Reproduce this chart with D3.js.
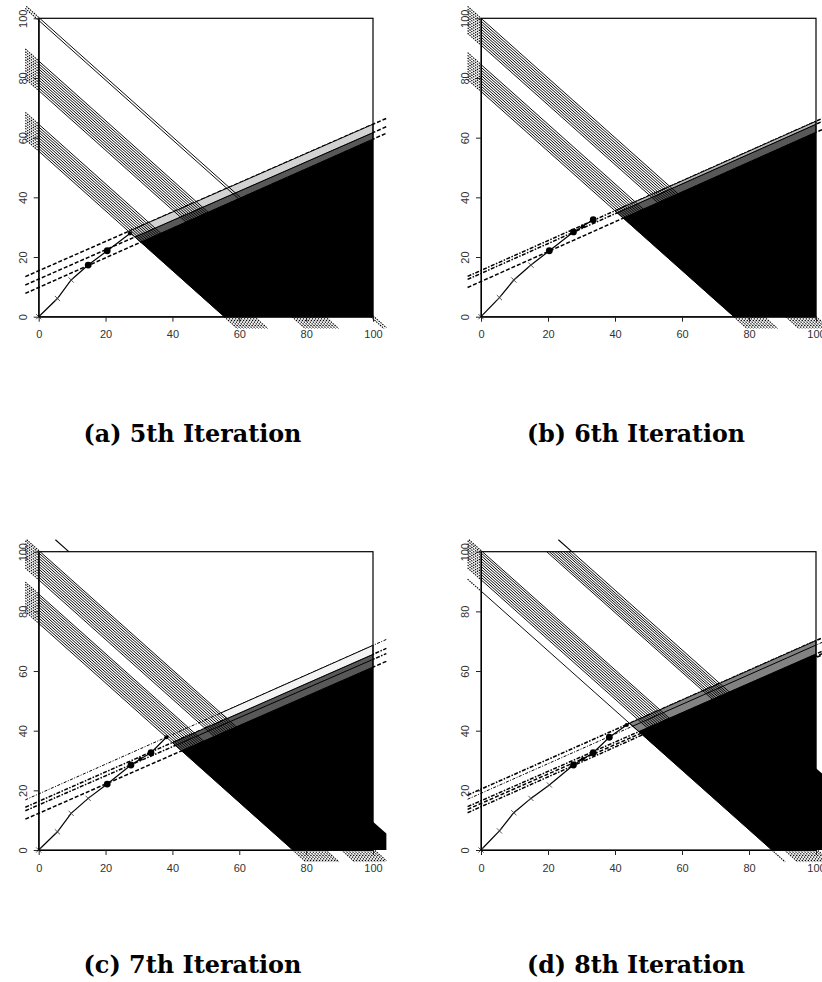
<!DOCTYPE html>
<html><head><meta charset="utf-8">
<script src="https://cdn.jsdelivr.net/npm/d3@7"></script>
<style>html,body{margin:0;padding:0;background:#fff;} svg{display:block;}</style>
</head><body>
<svg id="chart" width="822" height="982"></svg>
<script>
// ---------------- DATA ----------------
const captions = ["(a) 5th Iteration", "(b) 6th Iteration", "(c) 7th Iteration", "(d) 8th Iteration"];
const xTicks = [0, 20, 40, 60, 80, 100];
const yTicks = [0, 20, 40, 60, 80, 100];

// iso-lines x + y = c
const isoA = [100.3, 99.3, 85.7, 84.8, 83.9, 83.0, 82.1, 81.2, 80.3, 79.4, 78.5, 77.6, 76.7, 75.8,
              64.5, 63.6, 62.7, 61.8, 60.9, 60.0, 59.1, 58.2, 57.3, 56.4, 55.5];
const isoB = [100.0, 99.1, 98.2, 97.3, 96.4, 95.5, 94.6, 93.7, 92.8, 91.9, 91.0,
              84.5, 83.6, 82.7, 81.8, 80.9, 80.0, 79.1, 78.2, 77.3, 76.4, 75.5];
const isoC = [100.4, 99.6, 98.7, 97.8, 96.9, 96.0, 95.1, 94.2, 93.3, 92.4, 91.5, 90.6,
              85.8, 85.0, 84.1, 83.2, 82.3, 81.4, 80.5, 79.6, 78.7, 77.8, 76.9, 76.0];
const isoD = [127.1, 126.2, 125.4, 124.6, 123.7, 122.9, 122.1, 121.2, 120.4, 119.6,
              100.4, 99.6, 98.7, 97.8, 96.9, 96.0, 95.1, 94.2, 93.3, 92.4, 91.5, 90.6, 86.8];

// cut lines y = intercept + slope * x
const cutsA = [[15.4, 0.491], [12.6, 0.491], [9.8, 0.497]];
const cutsB = [[15.5, 0.500], [14.5, 0.500], [11.8, 0.500]];
const cutsC = [[18.8, 0.498], [16.3, 0.493], [15.1, 0.488], [12.3, 0.490]];
const cutsD = [[20.4, 0.498], [19.0, 0.497], [16.5, 0.492], [15.6, 0.493], [14.5, 0.500]];

// bands: [lower cut index, upper cut index, left iso c]
const bandsA = [[2, 1, 55.5], [1, 0, 55.5]];
const bandsB = [[2, 1, 75.5], [1, 0, 75.5]];
const bandsC = [[3, 1, 76.0], [1, 0, 100.4]];
const bandsD = [[2, 0, 86.8]];

// black feasible region: [top cut index, left iso c]
const blackA = [2, 55.5];
const blackB = [2, 75.5];
const blackC = [3, 76.0];
const blackD = [2, 86.8];

// iso range spilling past the right edge: [c from, c to]
const spillA = [];
const spillB = [];
const spillC = [100, 109.5];
const spillD = [100, 127.4];

// iso lines visible only in the top margin
const topIsoA = [];
const topIsoB = [];
const topIsoC = [109.0];
const topIsoD = [127.1];

// cut lines drawn solid inside the bands
const innerA = [];
const innerB = [];
const innerC = [2];
const innerD = [1];

// iteration path
const pathA = [[0, 0], [5.6, 6.1], [9.7, 12.3], [14.8, 17.3], [20.5, 22.1], [27.3, 27.9]];
const markA = ["x", "x", "x", "dot", "dot", "small"];
const pathB = [[0, 0], [5.5, 6.4], [9.8, 12.3], [14.9, 17.3], [20.4, 22.1], [27.6, 28.4], [30.4, 30.3], [33.5, 32.5]];
const markB = ["x", "x", "x", "x", "dot", "dot", "small", "dot"];
const pathC = [[0, 0], [5.6, 6.1], [9.7, 12.3], [14.8, 17.3], [20.5, 22.1], [27.6, 28.5], [30.4, 30.5], [33.6, 32.6], [38.2, 37.8]];
const markC = ["x", "x", "x", "x", "dot", "dot", "small", "dot", "small"];
const pathD = [[0, 0], [5.5, 6.4], [9.8, 12.5], [14.9, 17.3], [20.4, 21.8], [27.6, 28.5], [30.4, 30.5], [33.5, 32.6], [38.3, 37.8], [43.5, 41.9]];
const markD = ["x", "x", "x", "x", "x", "dot", "small", "dot", "dot", "small"];

// ---------------- LAYOUT / STYLE ----------------
const layouts = [
  {left: 38.7, right: 373.0, bottom: 316.7, top: 18.3, capX: 192.5, capY: 442},
  {left: 481.0, right: 816.0, bottom: 316.7, top: 18.3, capX: 636, capY: 442},
  {left: 38.7, right: 373.0, bottom: 850.0, top: 551.7, capX: 192.5, capY: 973},
  {left: 481.0, right: 816.0, bottom: 850.0, top: 551.7, capX: 636, capY: 973}
];
const DASH = "4,2", DOTDASH = "4,1.5,1.5,1.5", THINDD = "3,1.5,1,1.5";
const styles = [
  {bandFill: ["#585858", "#d2d2d2"], dash: [DASH, DASH, DASH], width: [1.5, 1.5, 1.5]},
  {bandFill: ["#585858", "#b5b5b5"], dash: [DOTDASH, DOTDASH, DASH], width: [1.5, 1.5, 1.5]},
  {bandFill: ["#585858", "#f3f3f3"], dash: [THINDD, DOTDASH, DOTDASH, DASH], width: [1.0, 1.5, 1.5, 1.5]},
  {bandFill: ["#828282"], dash: [DOTDASH, THINDD, DOTDASH, DASH, DOTDASH], width: [1.6, 1.0, 1.5, 1.5, 1.5]}
];
const panels = [
  {iso: isoA, cuts: cutsA, bands: bandsA, black: blackA, spill: spillA, topIso: topIsoA, inner: innerA, path: pathA, marks: markA},
  {iso: isoB, cuts: cutsB, bands: bandsB, black: blackB, spill: spillB, topIso: topIsoB, inner: innerB, path: pathB, marks: markB},
  {iso: isoC, cuts: cutsC, bands: bandsC, black: blackC, spill: spillC, topIso: topIsoC, inner: innerC, path: pathC, marks: markC},
  {iso: isoD, cuts: cutsD, bands: bandsD, black: blackD, spill: spillD, topIso: topIsoD, inner: innerD, path: pathD, marks: markD}
];

const svg = d3.select("#chart");
svg.append("rect").attr("width", 822).attr("height", 982).attr("fill", "#fff");

function isoSeg(c, lo, hi) {
  const x1 = Math.max(lo, c - hi), x2 = Math.min(hi, c - lo);
  return x1 < x2 ? [[x1, c - x1], [x2, c - x2]] : null;
}

panels.forEach((p, i) => {
  const L = layouts[i], S = styles[i];
  const x = d3.scaleLinear().domain([0, 100]).range([L.left, L.right]);
  const y = d3.scaleLinear().domain([0, 100]).range([L.bottom, L.top]);
  const g = svg.append("g");
  const line = d3.line().x(d => x(d[0])).y(d => y(d[1]));
  const cut = (k, xv) => p.cuts[k][0] + p.cuts[k][1] * xv;
  const cutIso = (k, c) => { const xv = (c - p.cuts[k][0]) / (1 + p.cuts[k][1]); return [xv, cut(k, xv)]; };

  // dashed cut lines
  p.cuts.forEach((ct, k) => {
    g.append("path").attr("d", line([[-4, cut(k, -4)], [104, cut(k, 104)]]))
      .attr("fill", "none").attr("stroke", "#000")
      .attr("stroke-width", S.width[k]).attr("stroke-dasharray", S.dash[k]);
  });

  // grey bands
  p.bands.forEach((b, k) => {
    const [lo, hi, c] = b;
    const pts = [cutIso(hi, c), [100, cut(hi, 100)], [100, cut(lo, 100)], cutIso(lo, c)];
    g.append("path").attr("d", line(pts) + "Z")
      .attr("fill", S.bandFill[k]).attr("stroke", "#000").attr("stroke-width", 1);
  });

  // black region
  {
    const [t, c] = p.black;
    const pts = [cutIso(t, c), [100, cut(t, 100)], [100, 0], [c, 0]];
    g.append("path").attr("d", line(pts) + "Z").attr("fill", "#000").attr("stroke", "#000").attr("stroke-width", 0.5);
  }
  if (p.spill.length) {
    const [c1, c2] = p.spill;
    const pts = [[100, c1 - 100], [100, c2 - 100], [104, c2 - 104], [104, Math.max(0, c1 - 104)]];
    g.append("path").attr("d", line(pts) + "Z").attr("fill", "#000");
  }

  // inner solid cut lines
  p.inner.forEach(k => {
    const st = cutIso(k, p.black[1]);
    g.append("path").attr("d", line([st, [100, cut(k, 100)]]))
      .attr("fill", "none").attr("stroke", "#000").attr("stroke-width", 1);
  });

  // iso lines
  p.iso.forEach(c => {
    const inner = isoSeg(c, 0, 100), outer = isoSeg(c, -4, 104);
    if (inner) g.append("path").attr("d", line(inner)).attr("fill", "none")
      .attr("stroke", "#000").attr("stroke-width", 0.95);
    if (inner && outer && c <= 104) {
      [[outer[0], inner[0]], [inner[1], outer[1]]].forEach(seg => {
        if (Math.abs(seg[0][0] - seg[1][0]) > 0.05)
          g.append("path").attr("d", line(seg)).attr("fill", "none")
            .attr("stroke", "#000").attr("stroke-width", 1.1).attr("stroke-dasharray", "1.5,1");
      });
    }
  });
  p.topIso.forEach(c => {
    g.append("path").attr("d", line([[c - 104, 104], [c - 100, 100]]))
      .attr("fill", "none").attr("stroke", "#000").attr("stroke-width", 1.1);
  });

  // path
  g.append("path").attr("d", line(p.path)).attr("fill", "none").attr("stroke", "#000").attr("stroke-width", 1.2);
  p.path.forEach((pt, k) => {
    const cx = x(pt[0]), cy = y(pt[1]), m = p.marks[k];
    if (m === "x") {
      g.append("path").attr("d", `M${cx-2.6},${cy-2.6}L${cx+2.6},${cy+2.6}M${cx-2.6},${cy+2.6}L${cx+2.6},${cy-2.6}`)
        .attr("stroke", "#444").attr("stroke-width", 0.9);
    } else {
      g.append("circle").attr("cx", cx).attr("cy", cy).attr("r", m === "dot" ? 3.4 : 2.1).attr("fill", "#000");
    }
  });

  // box
  g.append("rect").attr("x", x(0)).attr("y", y(100)).attr("width", x(100) - x(0)).attr("height", y(0) - y(100))
    .attr("fill", "none").attr("stroke", "#000").attr("stroke-width", 1.2);

  // axes
  const ax = g.append("g").attr("transform", `translate(0,${L.bottom})`)
    .call(d3.axisBottom(x).tickValues(xTicks).tickSize(5).tickSizeOuter(0).tickPadding(9));
  const ay = g.append("g").attr("transform", `translate(${L.left},0)`)
    .call(d3.axisLeft(y).tickValues(yTicks).tickSize(5).tickSizeOuter(0));
  [ax, ay].forEach(a => {
    a.select(".domain").attr("stroke", "#000");
    a.selectAll(".tick line").attr("stroke", "#222");
    a.selectAll("text").attr("font-family", "'Liberation Sans', Arial, sans-serif")
      .attr("font-size", 11).attr("fill", "#333");
  });
  ay.selectAll(".tick text").attr("x", 0).attr("dy", 0).attr("text-anchor", "middle")
    .attr("transform", "translate(-12.2,0) rotate(-90)");

  // caption
  const cap = svg.append("text").attr("x", L.capX).attr("y", L.capY)
    .attr("text-anchor", "middle").attr("font-family", "'DejaVu Serif', serif")
    .attr("font-weight", "bold").attr("font-size", 20).attr("fill", "#000").text(captions[i]);
  const len = cap.node().getComputedTextLength();
  cap.attr("font-size", 20 * 218 / len);
});
</script>
</body></html>
